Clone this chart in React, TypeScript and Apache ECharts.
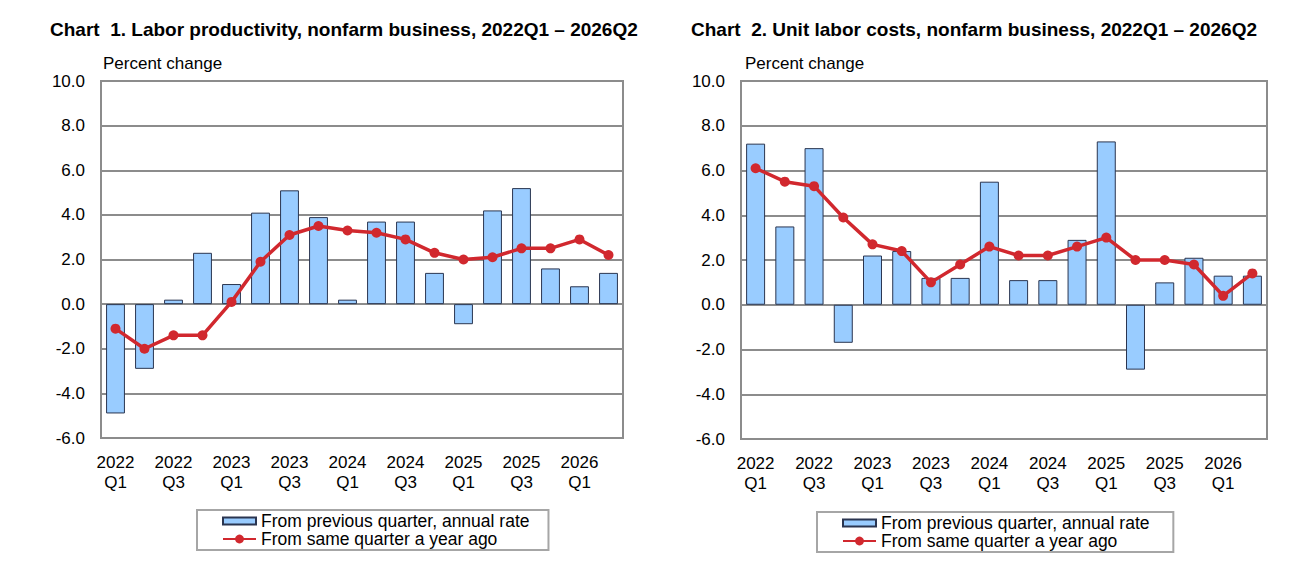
import * as echarts from 'echarts';
import { useEffect, useRef } from 'react';

const quarters = [
  '2022\nQ1', '2022\nQ2', '2022\nQ3', '2022\nQ4',
  '2023\nQ1', '2023\nQ2', '2023\nQ3', '2023\nQ4',
  '2024\nQ1', '2024\nQ2', '2024\nQ3', '2024\nQ4',
  '2025\nQ1', '2025\nQ2', '2025\nQ3', '2025\nQ4',
  '2026\nQ1', '2026\nQ2',
];

// Chart 1: labor productivity
const prodQuarterly = [-4.9, -2.9, 0.2, 2.3, 0.9, 4.1, 5.1, 3.9, 0.2, 3.7, 3.7, 1.4, -0.9, 4.2, 5.2, 1.6, 0.8, 1.4];
const prodYearAgo = [-1.1, -2.0, -1.4, -1.4, 0.1, 1.9, 3.1, 3.5, 3.3, 3.2, 2.9, 2.3, 2.0, 2.1, 2.5, 2.5, 2.9, 2.2];

// Chart 2: unit labor costs
const ulcQuarterly = [7.2, 3.5, 7.0, -1.7, 2.2, 2.4, 1.2, 1.2, 5.5, 1.1, 1.1, 2.9, 7.3, -2.9, 1.0, 2.1, 1.3, 1.3];
const ulcYearAgo = [6.1, 5.5, 5.3, 3.9, 2.7, 2.4, 1.0, 1.8, 2.6, 2.2, 2.2, 2.6, 3.0, 2.0, 2.0, 1.8, 0.4, 1.4];

const barName = 'From previous quarter, annual rate';
const lineName = 'From same quarter a year ago';

const FONT = '"Liberation Sans", Arial, sans-serif';
const BAR_FILL = '#99CCFF';
const BAR_EDGE = '#2A3550';
const RED = '#D1282E';
const GRID_GRAY = '#8C8C8C';

export default function App() {
  const container = useRef<HTMLDivElement | null>(null);

  useEffect(() => {
    document.body.style.margin = '0';
    if (!container.current) return;
    const chart = echarts.init(container.current, null, { renderer: 'svg' });

    const grids = [
      { left: 101, top: 81, width: 522, height: 357 },
      { left: 741, top: 81, width: 526, height: 358 },
    ];

    const yAxis = (gridIndex: number) => ({
      type: 'value',
      gridIndex,
      min: -6,
      max: 10,
      interval: 2,
      axisLine: { show: false },
      axisTick: { show: false },
      axisLabel: {
        formatter: (v: number) => v.toFixed(1),
        fontFamily: FONT,
        fontSize: 17,
        color: '#000',
        margin: 16,
      },
      splitLine: { lineStyle: { color: GRID_GRAY, width: 2 } },
    });

    const xAxis = (gridIndex: number) => ({
      type: 'category',
      gridIndex,
      data: quarters,
      boundaryGap: true,
      axisLine: { show: false },
      axisTick: { show: false },
      axisLabel: {
        interval: 1,
        fontFamily: FONT,
        fontSize: 17,
        color: '#000',
        lineHeight: 20,
        margin: 14,
      },
    });

    const barSeries = (idx: number, data: number[], name: string) => ({
      type: 'bar',
      name,
      xAxisIndex: idx,
      yAxisIndex: idx,
      data,
      barWidth: '65%',
      itemStyle: { color: BAR_FILL, borderColor: BAR_EDGE, borderWidth: 1 },
    });

    const lineSeries = (idx: number, data: number[], name: string) => ({
      type: 'line',
      name,
      xAxisIndex: idx,
      yAxisIndex: idx,
      data,
      symbol: 'circle',
      symbolSize: 10,
      lineStyle: { color: RED, width: 3.5 },
      itemStyle: { color: RED },
      z: 5,
    });

    const legend = (left: number, top: number, names: string[]) => ({
      orient: 'vertical',
      left,
      top,
      data: [
        { name: names[0], icon: 'path://M0,0h33v7h-33z', symbolKeepAspect: true },
        { name: names[1] },
      ],
      itemWidth: 33,
      itemHeight: 11,
      itemGap: 0,
      padding: [2, 19, 2, 25],
      borderColor: '#A6A6A6',
      borderWidth: 2,
      selectedMode: false,
      textStyle: { fontFamily: FONT, fontSize: 17.5, lineHeight: 18, color: '#000' },
    });

    const titleStyle = { fontFamily: FONT, fontSize: 19, fontWeight: 'bold', color: '#000' };
    const noteStyle = { fontFamily: FONT, fontSize: 17, fill: '#000' };

    chart.setOption({
      animation: false,
      backgroundColor: '#fff',
      grid: grids.map((g) => ({
        ...g,
        show: true,
        borderColor: GRID_GRAY,
        borderWidth: 2,
        backgroundColor: 'transparent',
      })),
      xAxis: [xAxis(0), xAxis(1)],
      yAxis: [yAxis(0), yAxis(1)],
      legend: [
        legend(197, 510, [barName, lineName]),
        legend(817, 512, [barName + ' ', lineName + ' ']),
      ],
      title: [
        {
          text: 'Chart  1. Labor productivity, nonfarm business, 2022Q1 – 2026Q2',
          left: 50,
          top: 20,
          padding: 0,
          textStyle: titleStyle,
        },
        {
          text: 'Chart  2. Unit labor costs, nonfarm business, 2022Q1 – 2026Q2',
          left: 691,
          top: 20,
          padding: 0,
          textStyle: titleStyle,
        },
      ],
      graphic: [
        { type: 'text', left: 103, top: 55, style: { text: 'Percent change', ...noteStyle } },
        { type: 'text', left: 745, top: 55, style: { text: 'Percent change', ...noteStyle } },
      ],
      series: [
        barSeries(0, prodQuarterly, barName),
        lineSeries(0, prodYearAgo, lineName),
        barSeries(1, ulcQuarterly, barName + ' '),
        lineSeries(1, ulcYearAgo, lineName + ' '),
      ],
    } as echarts.EChartsOption);

    return () => {
      chart.dispose();
    };
  }, []);

  return <div ref={container} style={{ width: 1306, height: 568 }} />;
}
